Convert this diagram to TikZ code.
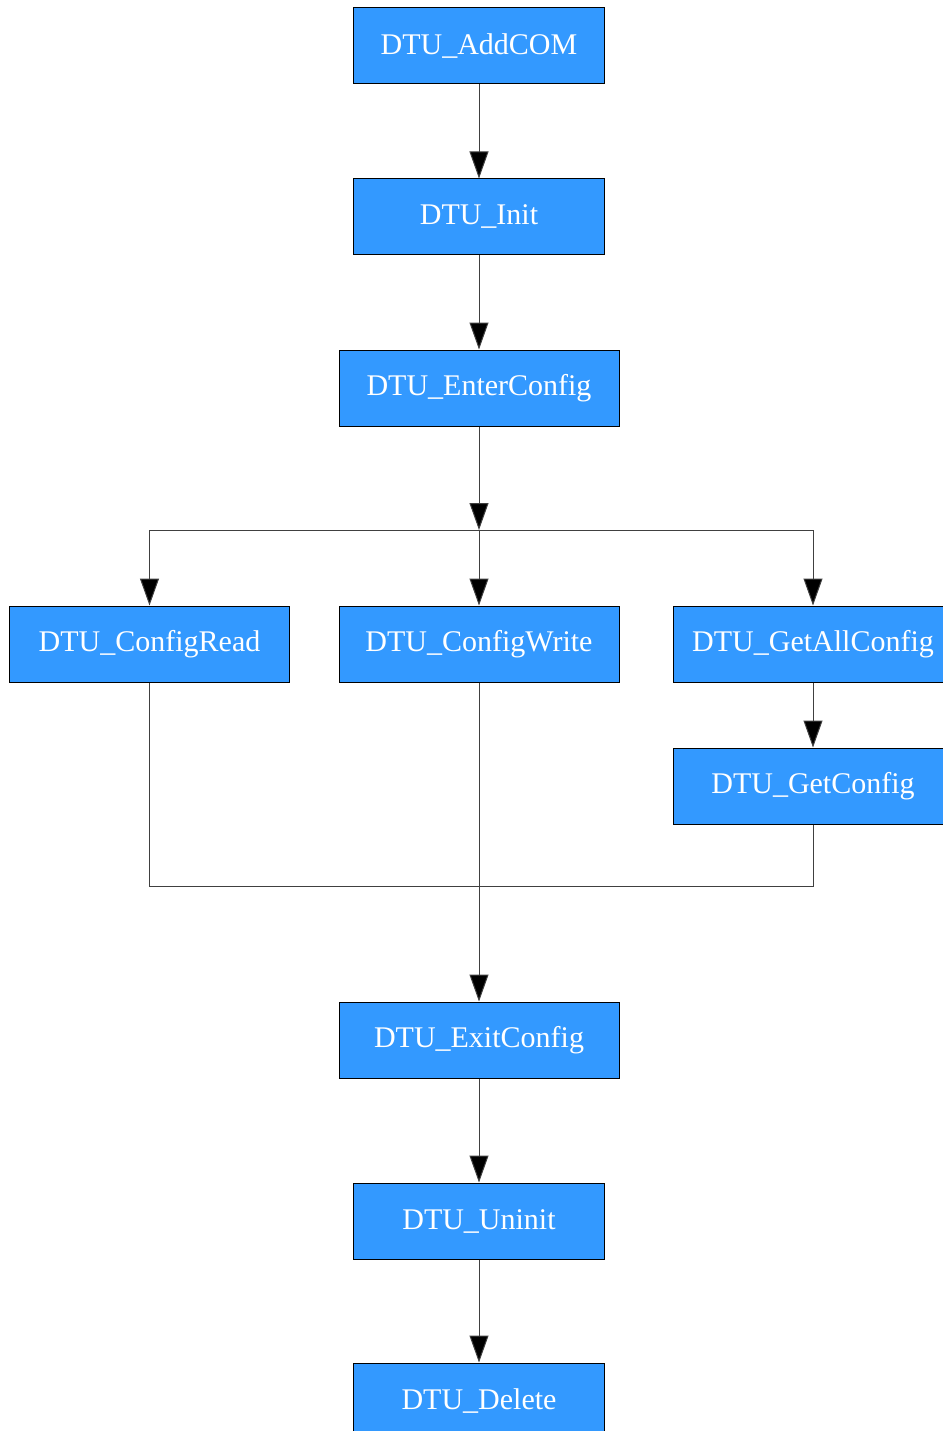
\documentclass[tikz,border=0pt]{standalone}
\usepackage{fontspec}
\setmainfont{Liberation Serif}
\usetikzlibrary{arrows.meta}
\definecolor{boxblue}{HTML}{3399FF}
\definecolor{edgegray}{HTML}{404040}
\begin{document}
\begin{tikzpicture}[x=1pt,y=1pt,
  fnode/.style={draw=black,line width=1pt,fill=boxblue,text=white,
    font=\fontsize{30}{33}\selectfont,inner sep=0pt,minimum height=76pt},
  wnode/.style={fnode,minimum width=251pt},
  bnode/.style={fnode,minimum width=280pt},
  conn/.style={draw=edgegray,line width=1pt},
  arr/.style={conn,-{Triangle[length=27pt,width=19pt,fill=black]}}]
\useasboundingbox (0,0) rectangle (942,-1431);
\node[wnode] (add) at (479,-46) {DTU\_AddCOM};
\node[wnode] (init) at (479,-217) {DTU\_Init};
\node[bnode] (enter) at (479,-388) {DTU\_EnterConfig};
\node[bnode] (read) at (149.5,-644) {DTU\_ConfigRead};
\node[bnode] (write) at (479,-644) {DTU\_ConfigWrite};
\node[bnode] (getall) at (813,-644) {DTU\_GetAllConfig};
\node[bnode] (getc) at (813,-786) {DTU\_GetConfig};
\node[bnode] (exit) at (479,-1040) {DTU\_ExitConfig};
\node[wnode] (uninit) at (479,-1221) {DTU\_Uninit};
\node[wnode] (del) at (479,-1401) {DTU\_Delete};
\coordinate (split) at (479,-530);
\coordinate (merge) at (479,-886);
\draw[arr] (add) -- (init);
\draw[arr] (init) -- (enter);
\draw[arr] (enter) -- (split);
\draw[arr] (split) -| (read.north);
\draw[arr] (split) -- (write);
\draw[arr] (split) -| (getall.north);
\draw[arr] (getall) -- (getc);
\draw[conn] (read.south) |- (merge);
\draw[conn] (getc.south) |- (merge);
\draw[conn] (write) -- (merge);
\draw[arr] (merge) -- (exit);
\draw[arr] (exit) -- (uninit);
\draw[arr] (uninit) -- (del);
\end{tikzpicture}
\end{document}
